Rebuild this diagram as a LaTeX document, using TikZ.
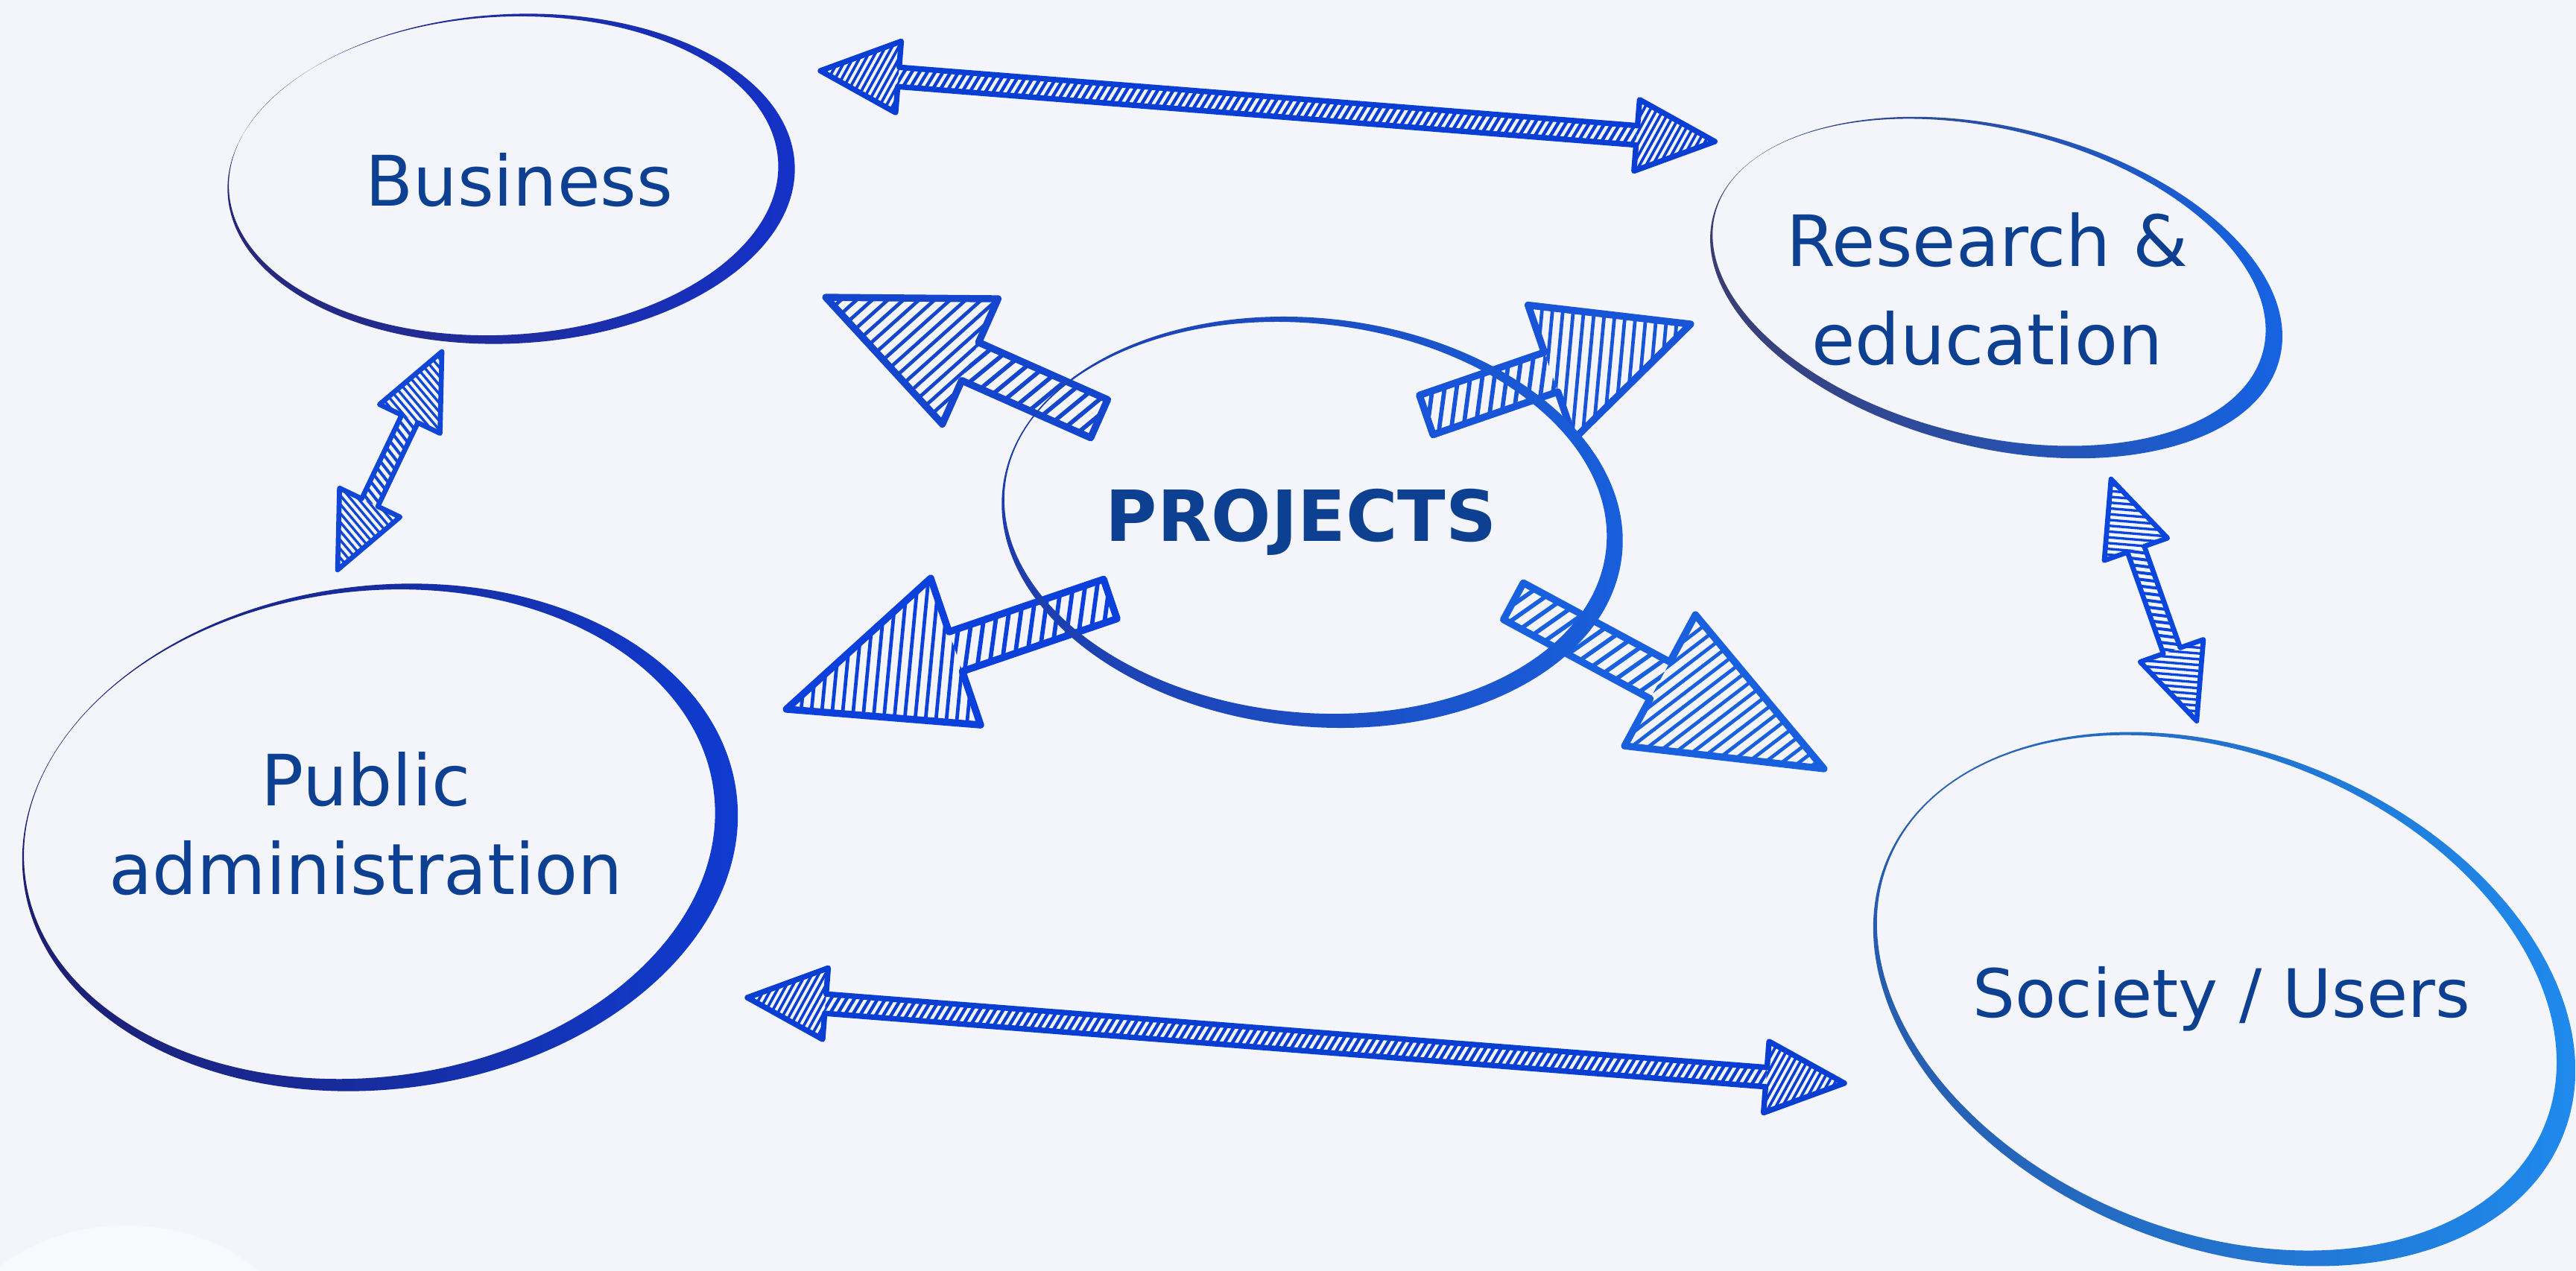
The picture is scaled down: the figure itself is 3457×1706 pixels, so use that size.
\documentclass[tikz,border=0pt]{standalone}
\usepackage{fontspec}
\setmainfont{DejaVu Sans}
\usetikzlibrary{calc}
\definecolor{bg}{RGB}{243,245,251}
\definecolor{txt}{RGB}{14,64,145}
\definecolor{aTop}{RGB}{8,62,212}
\definecolor{aBot}{RGB}{8,62,210}
\definecolor{aLeft}{RGB}{16,70,214}
\definecolor{aRight}{RGB}{10,70,220}
\definecolor{aUL}{RGB}{20,70,205}
\definecolor{aLL}{RGB}{12,64,218}
\definecolor{aUR}{RGB}{24,84,215}
\definecolor{aLR}{RGB}{24,96,222}
\definecolor{ringL}{RGB}{40,40,120}
\definecolor{ringR}{RGB}{20,50,200}

% sketchy hatched block arrow: #1 colour, #2 from, #3 to, #4 double (1/0),
% #5 shaft half width, #6 head length, #7 head half width, #8 hatch step, #9 outline width (pt)
\newcommand\skarrow[9]{%
  \path let \p1=($(#3)-(#2)$) in \pgfextra{%
    \pgfmathsetmacro\tmpang{atan2(\y1,\x1)}%
    \pgfmathsetmacro\tmplen{veclen(\x1,\y1)/0.284528}%
    \global\let\skang\tmpang \global\let\sklen\tmplen};
  \begin{scope}[shift={(#2)}, rotate=\skang, x=0.01cm, y=0.01cm, line join=round, line cap=round]
    \pgfmathsetmacro\skhb{\sklen-#6}%
    \pgfmathsetmacro\sktwo{#8*0.85}%
    \pgfmathtruncatemacro\skM{(#6+#7)/\sktwo+1}%
    \ifnum#4=1
      \def\skpath{(0,0) -- (#6,#7) -- (#6,#5) -- (\skhb,#5) -- (\skhb,#7) -- (\sklen,0) -- (\skhb,-#7) -- (\skhb,-#5) -- (#6,-#5) -- (#6,-#7) -- cycle}%
      \def\sku{#6}%
      \begin{scope}
        \clip (0,0) -- (#6,#7) -- (#6,-#7) -- cycle;
        \foreach \k in {0,...,\skM} \draw[#1, line width=#9*0.5pt] ({-#7+\k*\sktwo},-#7) -- ++({#7*0.9},{2*#7});
      \end{scope}
    \else
      \def\skpath{(0,#5) -- (\skhb,#5) -- (\skhb,#7) -- (\sklen,0) -- (\skhb,-#7) -- (\skhb,-#5) -- (0,-#5) -- cycle}%
      \def\sku{0}%
    \fi
    \begin{scope}
      \clip (\sku,-#5) rectangle (\skhb,#5);
      \pgfmathtruncatemacro\skN{(\skhb-\sku+#5)/#8+1}%
      \foreach \k in {0,...,\skN} \draw[#1, line width=#9*0.6pt] ({\sku-#5+\k*#8},-#5) -- ++({#5},{2*#5});
    \end{scope}
    \begin{scope}
      \clip (\sklen,0) -- (\skhb,#7) -- (\skhb,-#7) -- cycle;
      \foreach \k in {0,...,\skM} \draw[#1, line width=#9*0.5pt] ({\skhb-#7+\k*\sktwo},-#7) -- ++({#7*0.9},{2*#7});
    \end{scope}
    \draw[#1, line width=#9 pt] \skpath;
  \end{scope}}

% crescent ellipse outline: #1 cx, #2 cy, #3 a, #4 b, #5 angle, #6 tL, #7 tR, #8 tT, #9 tB
\newcommand\ovalring[9]{%
  \begin{scope}[shift={(#1,#2)}, rotate=#5, x=0.01cm, y=0.01cm]
    \shade[even odd rule, left color=ringL, right color=ringR]
      (0,0) ellipse [x radius=#3, y radius=#4]
      ({-(#7-#6)/2},{(#9-#8)/2}) ellipse [x radius={#3-(#6+#7)/2}, y radius={#4-(#8+#9)/2}];
  \end{scope}}

\tikzset{lbl/.style={inner sep=0pt, text=txt, anchor=base}}

\begin{document}
\begin{tikzpicture}[x=0.01cm, y=-0.01cm]
\useasboundingbox (0,0) rectangle (3457,1706);
\clip (0,0) rectangle (3457,1706);
\fill[bg] (0,0) rectangle (3457,1706);
\fill[white, opacity=0.45] (170,1830) ellipse [x radius=240, y radius=185];

% arrow end points
\coordinate (t1) at (1101,95);   \coordinate (t2) at (2302,190);
\coordinate (b1) at (1003,1339); \coordinate (b2) at (2476,1454);
\coordinate (l1) at (593,472);   \coordinate (l2) at (453,765);
\coordinate (r1) at (2833,643);  \coordinate (r2) at (2948,968);
\coordinate (ul0) at (1475,562); \coordinate (ul1) at (1108,399);
\coordinate (ur0) at (1914,557); \coordinate (ur1) at (2269,435);
\coordinate (ll0) at (1490,804); \coordinate (ll1) at (1055,952);
\coordinate (lr0) at (2031,807); \coordinate (lr1) at (2448,1032);

\skarrow{aTop}{t1}{t2}{1}{13}{105}{48}{10}{2.1}
\skarrow{aBot}{b1}{b2}{1}{13}{105}{48}{10}{2.1}
\skarrow{aLeft}{l1}{l2}{1}{12}{100}{45}{10}{1.9}
\skarrow{aRight}{r1}{r2}{1}{12}{100}{45}{10}{1.9}
\skarrow{aUL}{ul0}{ul1}{0}{28}{212}{92}{18}{2.7}
\skarrow{aUR}{ur0}{ur1}{0}{28}{198}{95}{18}{2.7}
\skarrow{aLL}{ll0}{ll1}{0}{28}{240}{104}{18}{2.7}
\skarrow{aLR}{lr0}{lr1}{0}{28}{250}{100}{18}{2.7}

% ellipses
\definecolor{ringL}{RGB}{40,40,120}\definecolor{ringR}{RGB}{20,50,200}
\ovalring{686}{240}{381}{221}{3}{2}{22}{3}{12}
\definecolor{ringL}{RGB}{60,60,110}\definecolor{ringR}{RGB}{20,100,230}
\ovalring{2679}{386}{392}{215}{-14}{2}{24}{5}{14}
\definecolor{ringL}{RGB}{30,30,110}\definecolor{ringR}{RGB}{15,60,210}
\ovalring{510}{1124}{482}{338}{7}{3}{30}{6}{18}
\definecolor{ringL}{RGB}{30,60,170}\definecolor{ringR}{RGB}{25,95,220}
\ovalring{1761}{701}{418}{274}{-6}{3}{22}{8}{18}
\definecolor{ringL}{RGB}{40,90,170}\definecolor{ringR}{RGB}{30,140,240}
\ovalring{2985}{1341}{490}{332}{-22}{3}{28}{8}{16}

% labels
\node[lbl, font=\fontsize{26.6}{32}\selectfont] (bus) at (697,276) {Business};
\node[lbl, font=\fontsize{27}{37.5}\selectfont] (res) at (2667,489)
  {\begin{tabular}[b]{@{}c@{}}Research \&\\education\end{tabular}};
\node[lbl, font=\fontsize{27}{33.7}\selectfont] (pub) at (491,1200)
  {\begin{tabular}[b]{@{}c@{}}Public\\administration\end{tabular}};
\node[lbl, font=\fontsize{25.5}{30}\selectfont] (soc) at (2981,1365) {Society / Users};
\node[lbl, font=\bfseries\fontsize{26.9}{32}\selectfont] (proj) at (1746,726) {PROJECTS};
\end{tikzpicture}
\end{document}
